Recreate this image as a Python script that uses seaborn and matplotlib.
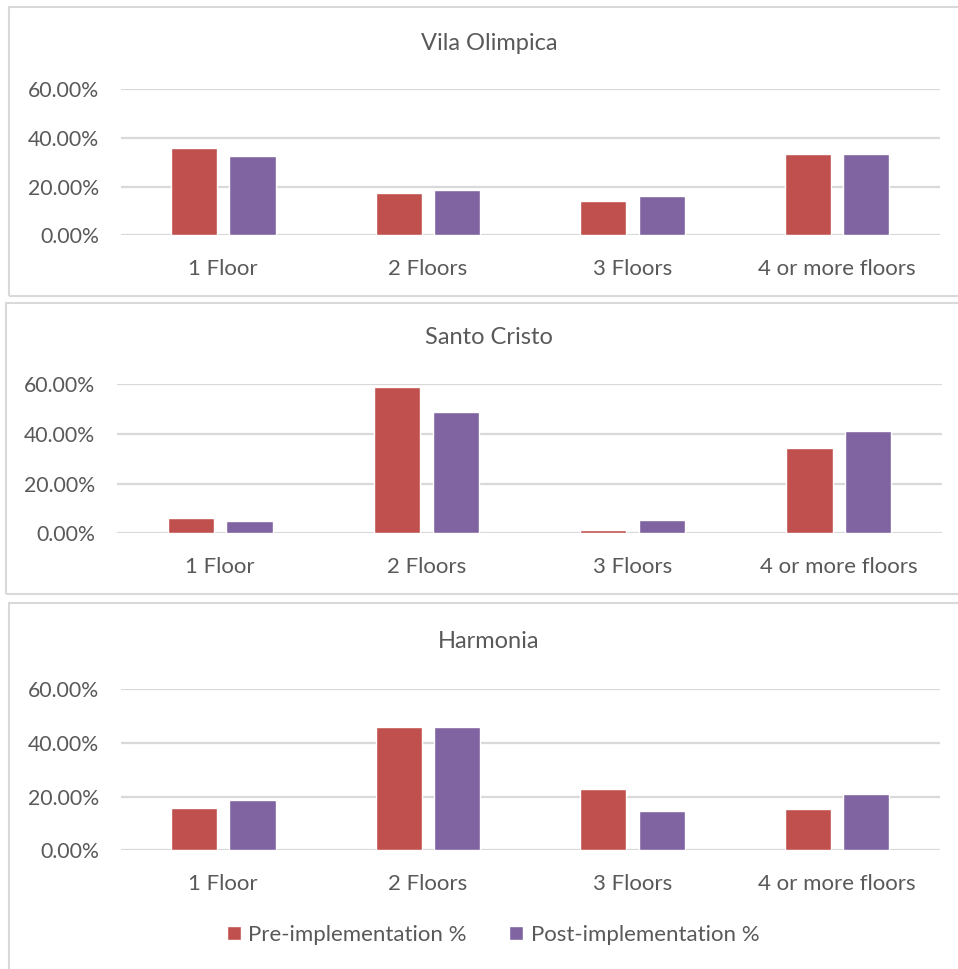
import matplotlib
matplotlib.use("Agg")
import matplotlib.pyplot as plt
from matplotlib.patches import Rectangle
from matplotlib.ticker import PercentFormatter
import seaborn as sns
import pandas as pd

# Building height distribution per neighbourhood
floors = ["1 Floor", "2 Floors", "3 Floors", "4 or more floors"]
series = ["Pre-implementation %", "Post-implementation %"]

vila_pre = [0.357, 0.173, 0.139, 0.332]
vila_post = [0.324, 0.185, 0.160, 0.333]

santo_pre = [0.060, 0.587, 0.013, 0.342]
santo_post = [0.049, 0.486, 0.053, 0.410]

harmonia_pre = [0.156, 0.459, 0.228, 0.154]
harmonia_post = [0.186, 0.457, 0.145, 0.211]

panels = [
    ("Vila Olimpica", vila_pre, vila_post),
    ("Santo Cristo", santo_pre, santo_post),
    ("Harmonia", harmonia_pre, harmonia_post),
]

RED = "#C0504D"
PURPLE = "#8064A2"
GRID = "#D9D9D9"
TEXT = "#595959"

sns.set_theme(style="white")
plt.rcParams["font.family"] = ["Lato", "DejaVu Sans"]

W, H = 958, 969
fig = plt.figure(figsize=(W / 100, H / 100), dpi=100)

# pixel layout: (plot left, plot right, 60% line, 0% line, frame top, frame bottom, frame left, title y)
layout = [
    (121, 939.5, 89.0, 235.3, 7, 296, 8.5, 43),
    (117, 942.0, 384.0, 533.3, 303, 594, 6.0, 337),
    (121, 939.5, 689.0, 850.3, 603, 1000, 8.5, 642),
]

for (title, pre, post), (x0, x1, yt, yb, ft, fb, fl, ty) in zip(panels, layout):
    # panel frame
    fig.patches.append(Rectangle((fl / W, 1 - fb / H), (1000 - fl) / W, (fb - ft) / H,
                                 transform=fig.transFigure, fill=False,
                                 edgecolor=GRID, linewidth=1.5, zorder=0))
    ax = fig.add_axes([x0 / W, 1 - yb / H, (x1 - x0) / W, (yb - yt) / H])
    df = pd.DataFrame({
        "floors": floors * 2,
        "share": pre + post,
        "series": [series[0]] * len(floors) + [series[1]] * len(floors),
    })
    sns.barplot(data=df, x="floors", y="share", hue="series", order=floors,
                hue_order=series, palette=[RED, PURPLE], width=0.57, gap=0.21,
                saturation=1, ax=ax, legend=(title == "Harmonia"), zorder=3)
    ax.set_ylim(0, 0.6)
    ax.set_yticks([0, 0.2, 0.4, 0.6])
    ax.yaxis.set_major_formatter(PercentFormatter(1.0, decimals=2))
    ax.set_xlim(-0.5, 3.5)
    ax.grid(axis="y", color=GRID, linewidth=1.6, zorder=0)
    ax.set_axisbelow(True)
    for s in ax.spines.values():
        s.set_visible(False)
    ax.tick_params(axis="y", length=0, labelsize=15.3, labelcolor=TEXT, pad=16)
    ax.tick_params(axis="x", length=0, labelsize=16, labelcolor=TEXT, pad=17)
    ax.set_xlabel("")
    ax.set_ylabel("")
    fig.text(489 / W, 1 - ty / H, title, ha="center", va="center",
             fontsize=17, color=TEXT)
    if title == "Harmonia":
        handles, labels = ax.get_legend_handles_labels()
        ax.get_legend().remove()
        fig.legend(handles, labels, loc="center", bbox_to_anchor=(493 / W, 1 - 935 / H),
                   ncol=2, frameon=False, fontsize=16, labelcolor=TEXT,
                   handlelength=0.62, handleheight=0.62, handletextpad=0.35,
                   columnspacing=1.9)

fig.savefig("out.png", dpi=100, facecolor="white")
